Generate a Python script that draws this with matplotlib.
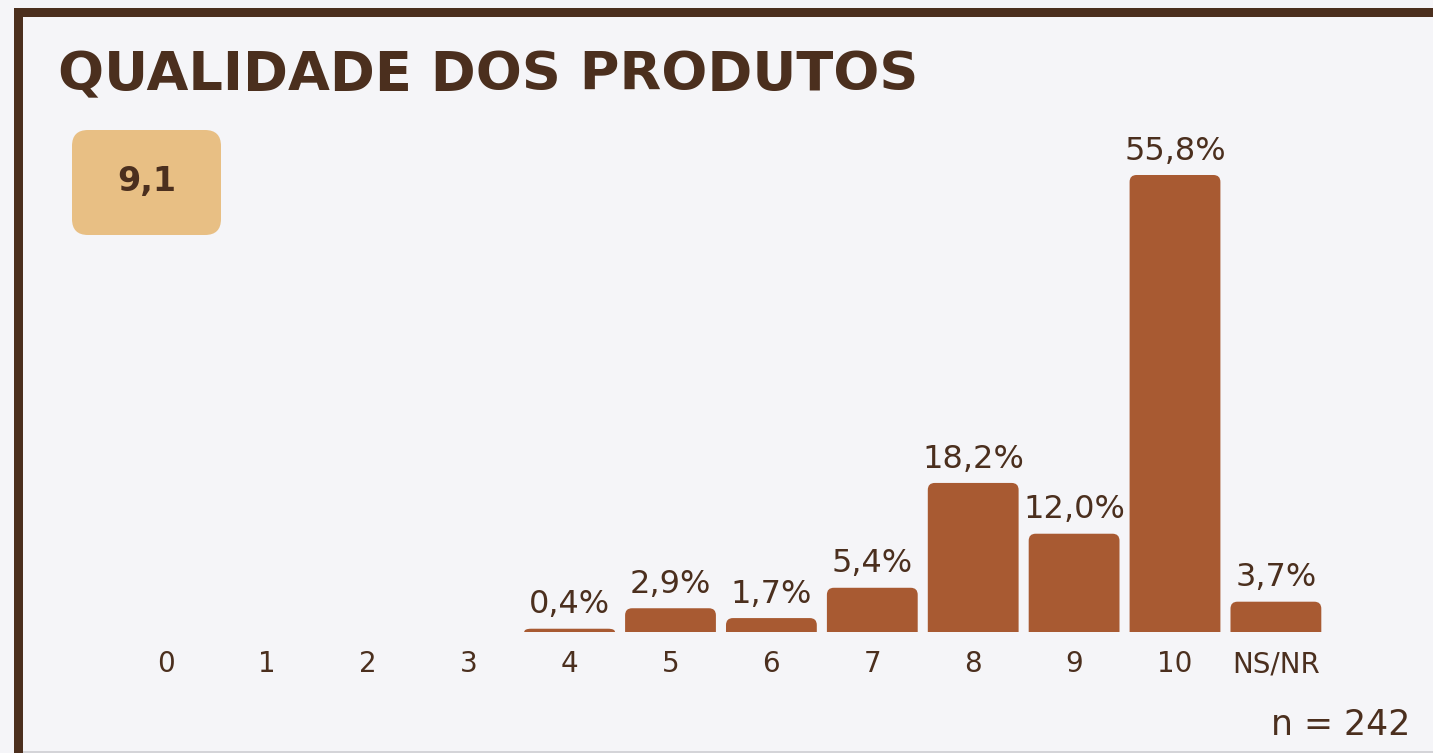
import matplotlib.pyplot as plt
from matplotlib.patches import FancyBboxPatch, Rectangle, PathPatch
from matplotlib.path import Path

categories = ['0', '1', '2', '3', '4', '5', '6', '7', '8', '9', '10', 'NS/NR']
shares = [0.0, 0.0, 0.0, 0.0, 0.4, 2.9, 1.7, 5.4, 18.2, 12.0, 55.8, 3.7]
title = 'QUALIDADE DOS PRODUTOS'
score = '9,1'
sample = 'n = 242'

bg = '#F5F5F8'
brown = '#4B2F1E'
barColor = '#A85A32'
badgeColor = '#E8BF84'

W, H = 1433, 753
fig = plt.figure(figsize=(W / 100, H / 100), dpi=100, facecolor=bg)

# frame: thick line on top and left, thin grey line at the bottom
fig.patches.append(Rectangle((14 / W, 1 - 17 / H), 1 - 14 / W, 9 / H, transform=fig.transFigure,
                             facecolor=brown, edgecolor='none'))
fig.patches.append(Rectangle((14 / W, 0), 9 / W, 1 - 8 / H, transform=fig.transFigure,
                             facecolor=brown, edgecolor='none'))
fig.patches.append(Rectangle((23 / W, 0), 1 - 23 / W, 2 / H, transform=fig.transFigure,
                             facecolor='#D4D4D8', edgecolor='none'))

fig.text(58 / W, 1 - 90 / H, title, fontsize=39, fontweight='bold', color=brown, va='baseline')

# score badge
fig.patches.append(FancyBboxPatch((72 / W, 1 - 235 / H), 149 / W, 105 / H,
                                  boxstyle=f'round,pad=0,rounding_size={16 / W}',
                                  mutation_aspect=W / H, transform=fig.transFigure,
                                  facecolor=badgeColor, edgecolor='none'))
fig.text(147 / W, 1 - 182 / H, score, fontsize=24, fontweight='bold', color=brown,
         ha='center', va='center')

# axes placed so bars line up with the reference
left = (166 - 50.45) / W
width = 12 * 100.9 / W
bottom = (H - 632) / H
height = 491.4 / H
ax = fig.add_axes([left, bottom, width, height])
ax.set_facecolor('none')
x = range(len(categories))
bars = ax.bar(x, shares, width=0.9, color=barColor)
ax.set_xlim(-0.5, len(categories) - 0.5)
ax.set_ylim(0, 60)


def topRounded(x0, w, h, rx, ry):
    # bar outline with rounded top corners and a square base
    ry = min(ry, h)
    x1 = x0 + w
    verts = [(x0, 0), (x0, h - ry), (x0, h), (x0 + rx, h), (x1 - rx, h), (x1, h), (x1, h - ry),
             (x1, 0), (x0, 0)]
    codes = [Path.MOVETO, Path.LINETO, Path.CURVE3, Path.CURVE3, Path.LINETO, Path.CURVE3,
             Path.CURVE3, Path.LINETO, Path.CLOSEPOLY]
    return Path(verts, codes)


rx = 7 / 100.9
ry = 7 / 8.19
for rect, val in zip(bars, shares):
    rect.set_visible(False)
    if val <= 0:
        continue
    x0, w, h = rect.get_x(), rect.get_width(), rect.get_height()
    ax.add_patch(PathPatch(topRounded(x0, w, h, rx, ry), facecolor=barColor, edgecolor='none'))
    lbl = f'{val:.1f}%'.replace('.', ',')
    ax.annotate(lbl, (x0 + w / 2, h), xytext=(0, 11), textcoords='offset points',
                ha='center', va='baseline', fontsize=23, color=brown)

ax.set_xticks(list(x))
ax.set_xticklabels(categories, fontsize=20, color=brown)
ax.tick_params(axis='x', length=0, pad=13)
ax.set_yticks([])
for s in ax.spines.values():
    s.set_visible(False)

fig.text(1410 / W, 1 - 735 / H, sample, fontsize=25, color=brown, ha='right', va='baseline')

fig.savefig('out.png', dpi=100, facecolor=bg)
